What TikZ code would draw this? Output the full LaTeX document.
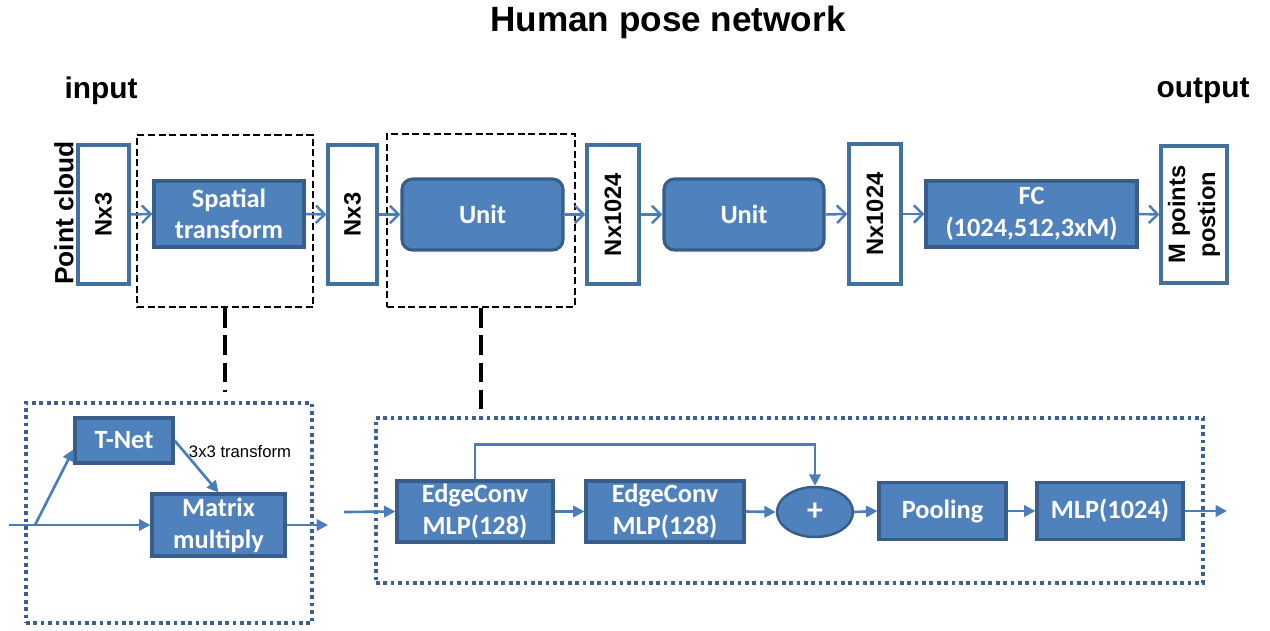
\documentclass[tikz,border=0pt]{standalone}
\usepackage{fontspec}
\setmainfont{Liberation Sans}
\newfontfamily\boxfont{Carlito}
\usetikzlibrary{arrows.meta,shapes.geometric}
\definecolor{blockfill}{HTML}{4F81BD}
\definecolor{blockline}{HTML}{385D8A}
\definecolor{wireblue}{HTML}{4A7EBB}
\definecolor{frameblue}{HTML}{41719C}
\definecolor{dotblue}{HTML}{3B5F8F}
\tikzset{
  wh/.style 2 args={minimum width=#1*0.02cm, minimum height=#2*0.02cm},
  block/.style={draw=blockline, fill=blockfill, line width=1.8pt, inner sep=0pt,
    text=white, align=center, font=\boxfont\bfseries\fontsize{15}{18}\selectfont},
  roundblock/.style={block, rounded corners=6pt},
  plainbox/.style={draw=frameblue, fill=white, line width=1.8pt, inner sep=0pt},
  vlabel/.style={rotate=90, align=center, font=\bfseries\fontsize{13.5}{15}\selectfont},
  dashframe/.style={draw=black, line width=1.4pt, dash pattern=on 4pt off 2pt, inner sep=0pt},
  dotframe/.style={draw=dotblue, line width=2.1pt, dash pattern=on 2.1pt off 2.1pt, inner sep=0pt},
  link/.style={draw=black, line width=1.8pt, dash pattern=on 11pt off 4.5pt},
  flow/.style={draw=wireblue, line width=1.4pt, -{Straight Barb[length=5pt,width=10pt,line width=1.4pt]}},
  wire/.style={draw=wireblue, line width=1.5pt, -{Triangle[length=6.5pt,width=6.5pt]}},
  heading/.style={font=\bfseries\fontsize{17}{20}\selectfont},
}
\begin{document}
\begin{tikzpicture}[x=0.02cm, y=-0.02cm]
\useasboundingbox (0,0) rectangle (1270,630);

% headings
\node[font=\bfseries\fontsize{20}{24}\selectfont] (title) at (668,22) {Human pose network};
\node[heading] (inlab) at (101,91) {input};
\node[heading] (outlab) at (1203,91) {output};

% top row
\node[rotate=90, font=\bfseries\fontsize{15}{18}\selectfont] (pc) at (64,213) {Point cloud};
\node[plainbox, wh={51}{139}] (b1) at (103.5,214.5) {};
\node[vlabel] at (b1) {Nx3};
\node[dashframe, wh={176}{172}] (d1) at (225,221) {};
\node[block, wh={150}{66}] (st) at (229,214) {Spatial\\transform};
\node[plainbox, wh={49}{139}] (b2) at (352.5,214.5) {};
\node[vlabel] at (b2) {Nx3};
\node[dashframe, wh={188}{173}] (d2) at (481,220.5) {};
\node[roundblock, wh={161}{71}] (u1) at (482.5,214.5) {Unit};
\node[plainbox, wh={52}{139}] (b3) at (613,214.5) {};
\node[vlabel] at (b3) {Nx1024};
\node[roundblock, wh={160}{71}] (u2) at (744,214.5) {Unit};
\node[plainbox, wh={52}{140}] (b4) at (875,214) {};
\node[vlabel] at (b4) {Nx1024};
\node[block, wh={211}{66}] (fc) at (1031.5,214) {FC\\(1024,512,3xM)};
\node[plainbox, wh={66}{137}] (ob) at (1194,214.5) {};
\node[vlabel, font=\bfseries\fontsize{13.5}{17}\selectfont] at (ob) {M points\\postion};

\draw[flow] (b1.east) -- (st.west);
\draw[flow] (st.east) -- (b2.west);
\draw[flow] (b2.east) -- (u1.west);
\draw[flow] (u1.east) -- (b3.west);
\draw[flow] (b3.east) -- (u2.west);
\draw[flow] (u2.east) -- (b4.west);
\draw[flow] (b4.east) -- (fc.west);
\draw[flow] (fc.east) -- (ob.west);

% spatial transform detail
\node[dotframe, wh={286}{220}] (lf) at (169,513) {};
\coordinate (lstop) at (225,392);
\draw[link] (d1.south) -- (lstop);
\node[block, wh={98}{45}] (tnet) at (124,440.5) {T-Net};
\node[block, wh={133}{62}] (mm) at (218.5,525) {Matrix\\multiply};
\coordinate (lin) at (9,525);
\coordinate (split) at (35,525);
\coordinate (lout) at (328,525);
\draw[wire] (lin) -- (mm.west);
\draw[wire] (split) -- (tnet.190);
\draw[wire] (tnet.east) -- (mm.north);
\draw[wire] (mm.east) -- (lout);
\node[font=\fontsize{9.5}{11}\selectfont] (tlab) at (240,452) {3x3 transform};

% unit detail
\node[dotframe, wh={827}{165}] (rf) at (789.5,500.5) {};
\draw[link] (d2.south) -- (d2.south |- rf.north);
\node[block, wh={156}{61}] (ec1) at (475,511.5) {EdgeConv\\MLP(128)};
\node[block, wh={158}{61}] (ec2) at (665,511.5) {EdgeConv\\MLP(128)};
\node[ellipse, draw=blockline, fill=blockfill, line width=1.4pt, wh={76}{50}, inner sep=0pt,
  text=white, font=\boxfont\bfseries\fontsize{18}{20}\selectfont] (plus) at (815,512) {+};
\node[block, wh={127}{57}] (pool) at (942.5,511) {Pooling};
\node[block, wh={146}{57}] (mlp) at (1110,511) {MLP(1024)};
\coordinate (rin) at (344,512);
\coordinate (rout) at (1227,511);
\draw[wire] (rin) -- (ec1.west);
\draw[wire] (ec1.east) -- (ec2.west);
\draw[wire] (ec2.east) -- (plus.west);
\draw[wire] (ec1.north) -- ++(0,-35) -| (plus.north);
\draw[wire] (plus.east) -- (pool.west);
\draw[wire] (pool.east) -- (mlp.west);
\draw[wire] (mlp.east) -- (rout);
\end{tikzpicture}
\end{document}
